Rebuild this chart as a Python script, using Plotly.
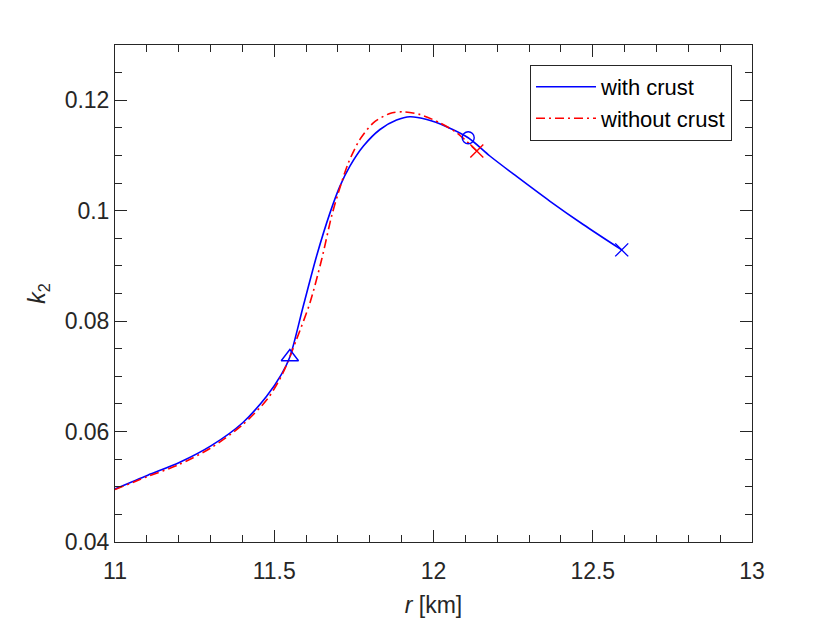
import plotly.graph_objects as go

# k2 vs radius
r_crust = [11.0, 11.103, 11.202, 11.301, 11.401, 11.476, 11.523, 11.549, 11.591, 11.633,
           11.675, 11.706, 11.738, 11.780, 11.832, 11.884, 11.926, 11.979, 12.041, 12.109,
           12.177, 12.261, 12.366, 12.47, 12.591]
k2_crust = [0.0496, 0.0521, 0.0544, 0.0574, 0.0616, 0.0664, 0.0704, 0.0735, 0.0827, 0.0918,
            0.0996, 0.1044, 0.1081, 0.1117, 0.1147, 0.1164, 0.1170, 0.1165, 0.1152, 0.1132,
            0.1099, 0.1062, 0.1017, 0.0975, 0.0929]

r_nocrust = [11.0, 11.1, 11.2, 11.3, 11.4, 11.48, 11.528, 11.570, 11.612, 11.649, 11.680,
             11.701, 11.733, 11.769, 11.811, 11.863, 11.905, 11.958, 12.020, 12.073, 12.136]
k2_nocrust = [0.0495, 0.0518, 0.0540, 0.0570, 0.0612, 0.0660, 0.0707, 0.0767, 0.0833, 0.0912,
              0.0990, 0.1032, 0.1087, 0.1129, 0.1159, 0.1176, 0.1179, 0.1174, 0.1159, 0.1141,
              0.1108]

# special points
tri_r, tri_k2 = [11.549], [0.0735]
circ_r, circ_k2 = [12.109], [0.1132]
xc_r, xc_k2 = [12.591], [0.0929]
xn_r, xn_k2 = [12.136], [0.1108]

blue = "#0000ff"
red = "#ff0000"
axcol = "#262626"
fnt = "Liberation Sans, Arial, sans-serif"

fig = go.Figure()
fig.add_trace(go.Scatter(x=r_crust, y=k2_crust, mode="lines", name="with crust",
                         line=dict(color=blue, width=1.6, shape="spline", smoothing=0.8)))
fig.add_trace(go.Scatter(x=r_nocrust, y=k2_nocrust, mode="lines", name="without crust",
                         line=dict(color=red, width=1.6, shape="spline", smoothing=0.8,
                                   dash="9px,4px,2px,4px")))

fig.add_trace(go.Scatter(x=tri_r, y=tri_k2, mode="markers", showlegend=False,
                         marker=dict(symbol="triangle-up-open", size=15, color=blue,
                                     line=dict(width=1.4, color=blue))))
fig.add_trace(go.Scatter(x=circ_r, y=circ_k2, mode="markers", showlegend=False,
                         marker=dict(symbol="circle-open", size=12, color=blue,
                                     line=dict(width=1.4, color=blue))))
fig.add_trace(go.Scatter(x=xc_r, y=xc_k2, mode="markers", showlegend=False,
                         marker=dict(symbol="x-thin-open", size=13, color=blue,
                                     line=dict(width=1.4, color=blue))))
fig.add_trace(go.Scatter(x=xn_r, y=xn_k2, mode="markers", showlegend=False,
                         marker=dict(symbol="x-thin-open", size=13, color=red,
                                     line=dict(width=1.4, color=red))))

axis_common = dict(showgrid=False, zeroline=False, showline=True, linecolor=axcol,
                   linewidth=1, mirror="ticks", ticks="inside", ticklen=12, tickwidth=1,
                   tickcolor=axcol, tickfont=dict(family=fnt, size=23, color=axcol))

fig.update_xaxes(range=[11, 13], tickvals=[11, 11.5, 12, 12.5, 13],
                 ticktext=["11", "11.5", "12", "12.5", "13"],
                 minor=dict(dtick=0.1, ticks="inside", ticklen=7, tickcolor=axcol),
                 ticklabelstandoff=8,
                 title=dict(text="<i>r</i> [km]", font=dict(family=fnt, size=23, color=axcol),
                            standoff=14),
                 **axis_common)
fig.update_yaxes(range=[0.04, 0.13], tickvals=[0.04, 0.06, 0.08, 0.1, 0.12],
                 ticktext=["0.04", "0.06", "0.08", "0.1", "0.12"],
                 minor=dict(dtick=0.005, ticks="inside", ticklen=7, tickcolor=axcol),
                 title=dict(text="<i>k</i><sub>2</sub>", font=dict(family=fnt, size=23, color=axcol),
                            standoff=12),
                 **axis_common)

# page body has an 8px margin, so shift the plot area up/left to match
fig.update_layout(
    width=830, height=623,
    margin=dict(l=107, r=86, t=37, b=89),
    plot_bgcolor="white", paper_bgcolor="white",
    legend=dict(x=0.9686, y=0.960, xanchor="right", yanchor="top",
                bordercolor=axcol, borderwidth=1, bgcolor="white",
                font=dict(family=fnt, size=22, color="black"),
                itemwidth=60, tracegroupgap=0),
)

fig.write_html("out.html")
